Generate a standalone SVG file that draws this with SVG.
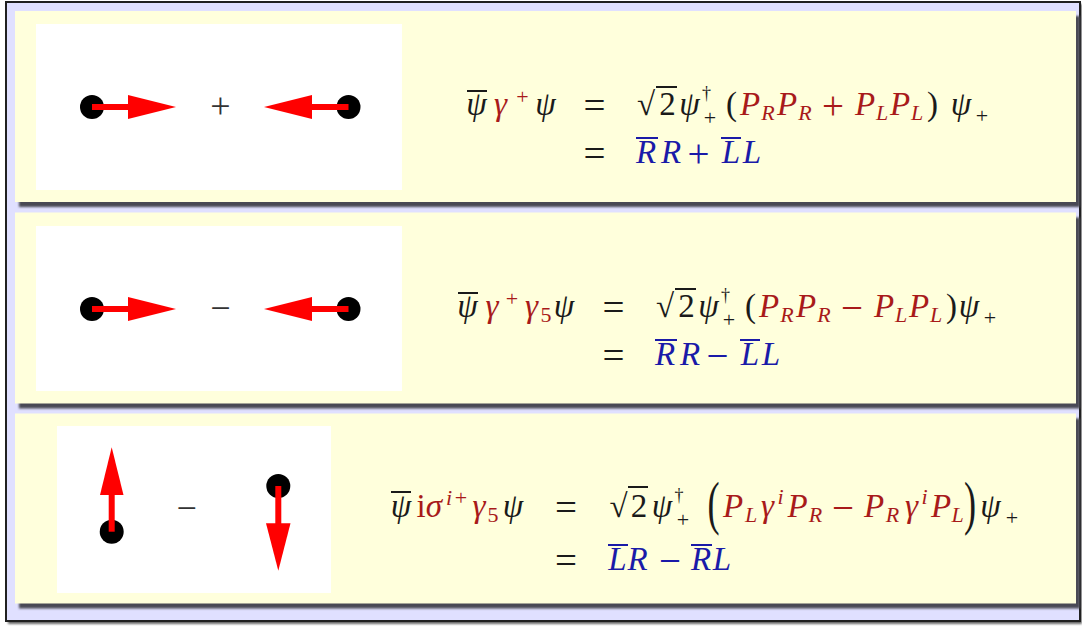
<svg xmlns="http://www.w3.org/2000/svg" width="1082" height="626" viewBox="0 0 1082 626">
<style>
.m{font-family:"Liberation Serif","DejaVu Serif",serif;font-size:33px;font-style:italic;text-anchor:middle}
.u{font-style:normal}
.o{font-size:39px;font-style:normal}
.s{font-size:22px}
.d{font-size:18px}
.k{fill:#1a1a1a}
.r{fill:#a81a1a}
.b{fill:#1a1aa8}
.bk{stroke:#1a1a1a;stroke-width:2}
.bb{stroke:#1a1aa8;stroke-width:2}
.panel{fill:#ffffdc}
.shadow{fill:#4a4a55;filter:url(#blur)}
.white{fill:#ffffff}
.dot{fill:#000000}
.shaft{stroke:#ff0000;stroke-width:6}
.head{fill:#ff0000}
.op{font-family:"Liberation Serif","DejaVu Serif",serif;font-size:36px;fill:#333333;text-anchor:middle}
</style>
<defs>
<filter id="blur" x="-5%" y="-5%" width="110%" height="110%"><feGaussianBlur stdDeviation="1.2"/></filter>
</defs>
<g id="frame">
<rect x="8" y="4" width="1074" height="620" fill="#666" filter="url(#blur)"/>
<rect x="6" y="2" width="1074" height="619" fill="#e0e0ff" stroke="#202020" stroke-width="2"/>
</g>
<g id="panel1">
<rect class="shadow" x="19" y="16" width="1061" height="191"/>
<rect class="panel" x="15" y="11" width="1061" height="191"/>
<rect class="white" x="36" y="24" width="366" height="166"/>
<circle class="dot" cx="92" cy="107" r="12"/>
<line class="shaft" x1="92" y1="107" x2="130" y2="107"/>
<polygon class="head" points="128,95 176,107 128,119"/>
<text class="op" x="220.5" y="117.5">+</text>
<circle class="dot" cx="348.5" cy="107" r="12"/>
<line class="shaft" x1="348.5" y1="107" x2="310" y2="107"/>
<polygon class="head" points="312,95 264,107 312,119"/>
<g class="m">
<text class="k" x="476.5" y="115">ψ</text>
<line class="bk" x1="467" y1="91" x2="487" y2="91"/>
<text class="r" x="500.5" y="115">γ</text>
<text class="r u s" x="522.5" y="104">+</text>
<text class="k" x="545.5" y="115">ψ</text>
<text class="k o" x="594.5" y="118.5">=</text>
<text class="k u" x="646" y="115">√</text>
<line class="bk" x1="656" y1="87" x2="677" y2="87"/>
<text class="k u" x="667.5" y="115">2</text>
<text class="k" x="689.5" y="115">ψ</text>
<text class="k u d" x="706.5" y="99">†</text>
<text class="k u s" x="710" y="125">+</text>
<text class="k u" x="731.5" y="115">(</text>
<text class="r" x="750" y="115">P</text>
<text class="r s" x="768" y="120">R</text>
<text class="r" x="787" y="115">P</text>
<text class="r s" x="805" y="120">R</text>
<text class="r o" x="833" y="118.5">+</text>
<text class="r" x="865" y="115">P</text>
<text class="r s" x="882" y="120">L</text>
<text class="r" x="900" y="115">P</text>
<text class="r s" x="917" y="120">L</text>
<text class="k u" x="932.5" y="115">)</text>
<text class="k" x="961" y="115">ψ</text>
<text class="k u s" x="982" y="123">+</text>
<text class="k o" x="594.5" y="166.5">=</text>
<text class="b" x="646" y="163">R</text>
<line class="bb" x1="636" y1="138" x2="658" y2="138"/>
<text class="b" x="671" y="163">R</text>
<text class="b o" x="698.5" y="166.5">+</text>
<text class="b" x="731" y="163">L</text>
<line class="bb" x1="721" y1="138" x2="741" y2="138"/>
<text class="b" x="752" y="163">L</text>
</g>
</g>
<g id="panel2">
<rect class="shadow" x="19" y="217.5" width="1061" height="191"/>
<rect class="panel" x="15" y="212.5" width="1061" height="191"/>
<rect class="white" x="36" y="226" width="366" height="165"/>
<circle class="dot" cx="92" cy="309" r="12"/>
<line class="shaft" x1="92" y1="309" x2="130" y2="309"/>
<polygon class="head" points="128,297 176,309 128,321"/>
<text class="op" x="220.5" y="319.5">−</text>
<circle class="dot" cx="348.5" cy="309" r="12"/>
<line class="shaft" x1="348.5" y1="309" x2="310" y2="309"/>
<polygon class="head" points="312,297 264,309 312,321"/>
<g class="m">
<text class="k" x="467.5" y="317">ψ</text>
<line class="bk" x1="458" y1="293" x2="478" y2="293"/>
<text class="r" x="492" y="317">γ</text>
<text class="r u s" x="512" y="306">+</text>
<text class="r" x="531.5" y="317">γ</text>
<text class="r u s" x="546" y="322">5</text>
<text class="k" x="564" y="317">ψ</text>
<text class="k o" x="613.5" y="320.5">=</text>
<text class="k u" x="665" y="317">√</text>
<line class="bk" x1="675" y1="289" x2="696" y2="289"/>
<text class="k u" x="686.5" y="317">2</text>
<text class="k" x="708.5" y="317">ψ</text>
<text class="k u d" x="725.5" y="301">†</text>
<text class="k u s" x="729" y="327">+</text>
<text class="k u" x="750.5" y="317">(</text>
<text class="r" x="769" y="317">P</text>
<text class="r s" x="787" y="322">R</text>
<text class="r" x="806" y="317">P</text>
<text class="r s" x="824" y="322">R</text>
<text class="r o" x="852" y="320.5">−</text>
<text class="r" x="884" y="317">P</text>
<text class="r s" x="901" y="322">L</text>
<text class="r" x="919" y="317">P</text>
<text class="r s" x="936" y="322">L</text>
<text class="k u" x="951.5" y="317">)</text>
<text class="k" x="969" y="317">ψ</text>
<text class="k u s" x="990" y="325">+</text>
<text class="k o" x="613.5" y="368.5">=</text>
<text class="b" x="665" y="365">R</text>
<line class="bb" x1="655" y1="340" x2="677" y2="340"/>
<text class="b" x="690" y="365">R</text>
<text class="b o" x="717.5" y="368.5">−</text>
<text class="b" x="750" y="365">L</text>
<line class="bb" x1="740" y1="340" x2="760" y2="340"/>
<text class="b" x="771" y="365">L</text>
</g>
</g>
<g id="panel3">
<rect class="shadow" x="19" y="418.5" width="1061" height="190"/>
<rect class="panel" x="15" y="413.5" width="1061" height="190"/>
<rect class="white" x="57" y="426" width="274" height="167"/>
<circle class="dot" cx="111.7" cy="531.7" r="12"/>
<line class="shaft" x1="111.7" y1="531.7" x2="111.7" y2="493"/>
<polygon class="head" points="100,495 111.7,447.3 123.5,495"/>
<text class="op" x="186.7" y="519.5">−</text>
<circle class="dot" cx="278.3" cy="486" r="12"/>
<line class="shaft" x1="278.3" y1="486" x2="278.3" y2="525"/>
<polygon class="head" points="266,523.3 278.3,570.7 290.5,523.3"/>
<g class="m">
<text class="k" x="401" y="517">ψ</text>
<line class="bk" x1="391" y1="492" x2="411" y2="492"/>
<text class="r u" x="421" y="517">i</text>
<text class="r" x="434" y="517">σ</text>
<text class="r s" x="449" y="505">i</text>
<text class="r u s" x="461" y="505">+</text>
<text class="r" x="479" y="517">γ</text>
<text class="r u s" x="493" y="522">5</text>
<text class="k" x="513" y="517">ψ</text>
<text class="k o" x="566" y="520.5">=</text>
<text class="k u" x="618.5" y="517">√</text>
<line class="bk" x1="628" y1="487" x2="648" y2="487"/>
<text class="k u" x="639" y="517">2</text>
<text class="k" x="662" y="517">ψ</text>
<text class="k u d" x="679" y="501">†</text>
<text class="k u s" x="683" y="527">+</text>
<text class="k u" transform="translate(713.5,522.6) scale(1.1,1.8)">(</text>
<text class="r" x="733" y="517">P</text>
<text class="r s" x="751" y="522">L</text>
<text class="r" x="767.5" y="517">γ</text>
<text class="r s" x="780.5" y="504">i</text>
<text class="r" x="797.5" y="517">P</text>
<text class="r s" x="815.5" y="522">R</text>
<text class="r o" x="843" y="520.5">−</text>
<text class="r" x="874" y="517">P</text>
<text class="r s" x="892.5" y="522">R</text>
<text class="r" x="911.5" y="517">γ</text>
<text class="r s" x="924.5" y="504">i</text>
<text class="r" x="941" y="517">P</text>
<text class="r s" x="957.5" y="522">L</text>
<text class="k u" transform="translate(970,522.6) scale(1.1,1.8)">)</text>
<text class="k" x="990.5" y="517">ψ</text>
<text class="k u s" x="1012" y="525">+</text>
<text class="k o" x="566" y="573.5">=</text>
<text class="b" x="617.5" y="570">L</text>
<line class="bb" x1="608" y1="545" x2="628" y2="545"/>
<text class="b" x="637.5" y="570">R</text>
<text class="b o" x="670" y="573.5">−</text>
<text class="b" x="701" y="570">R</text>
<line class="bb" x1="691" y1="545" x2="712" y2="545"/>
<text class="b" x="722" y="570">L</text>
</g>
</g>
</svg>
